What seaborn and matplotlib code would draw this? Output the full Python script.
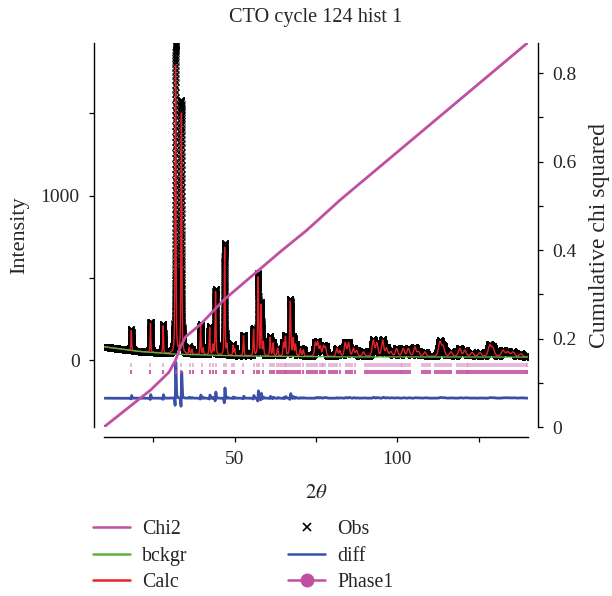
import matplotlib
matplotlib.use("Agg")
import matplotlib.pyplot as plt
import numpy as np
import pandas as pd
import seaborn as sns
from matplotlib.lines import Line2D
from matplotlib.ticker import FormatStrFormatter, MultipleLocator

TITLE = "CTO cycle 124 hist 1"

# background (green line) read at a few 2theta positions
bkg_2theta = [10, 20, 31, 50, 80, 140]
bkg_counts = [82, 55, 38, 27, 21, 20]

# peaks: position, calc height, obs height (above background), fwhm
peak_pos = [18.2, 24.1, 28.0, 31.8, 33.6, 36.0, 36.8, 39.5, 40.3, 42.3, 43.3, 44.1, 46.9, 47.6,
            49.5, 50.0, 52.7, 55.8, 57.2, 58.1, 58.8, 60.9, 61.8, 63.2, 65.0, 65.6, 67.1, 68.0,
            68.7, 70.2, 71.1, 74.8, 75.5, 76.3, 77.3, 77.9, 81.4, 82.3, 84.0, 85.0, 86.5, 87.5,
            89.6, 92.6, 93.7, 95.5, 96.7, 98.0, 99.8, 101.8, 103.4, 105.4, 106.5, 108.5, 113.1,
            114.1, 116.5, 119.2, 120.8, 123.0, 125.4, 128.4, 129.4, 132.5, 134.0, 135.6, 138.0]
peak_calc = [120, 175, 165, 1750, 1460, 40, 30, 175, 40, 165, 60, 385, 655, 60,
             62, 40, 122, 160, 475, 305, 80, 112, 78, 48, 78, 115, 330, 105,
             68, 44, 38, 78, 82, 58, 58, 52, 48, 34, 82, 82, 48, 34,
             28, 96, 78, 96, 48, 28, 48, 48, 48, 56, 28, 28, 88,
             58, 28, 48, 38, 24, 24, 65, 48, 38, 28, 28, 18]
peak_obs = [128, 185, 175, 1880, 1540, 44, 32, 185, 42, 175, 62, 400, 680, 62,
            66, 42, 128, 168, 495, 318, 82, 118, 80, 50, 80, 120, 345, 110,
            70, 46, 40, 80, 85, 60, 60, 55, 50, 35, 85, 85, 50, 35,
            30, 100, 80, 100, 50, 30, 50, 50, 50, 58, 30, 30, 92,
            60, 30, 50, 40, 25, 25, 68, 50, 40, 30, 30, 20]
peak_fwhm = [0.25, 0.25, 0.25, 0.3, 0.3, 0.3, 0.3, 0.3, 0.3, 0.3, 0.3, 0.3, 0.3, 0.3,
             0.3, 0.3, 0.32, 0.32, 0.32, 0.32, 0.35, 0.35, 0.35, 0.4, 0.4, 0.4, 0.4, 0.4,
             0.4, 0.45, 0.45, 0.6, 0.6, 0.6, 0.6, 0.6, 0.6, 0.6, 0.7, 0.7, 0.7, 0.7,
             0.8, 0.8, 0.8, 0.8, 0.8, 0.9, 0.9, 0.9, 0.9, 0.9, 0.9, 0.9, 1.0,
             1.0, 1.0, 1.0, 1.0, 1.1, 1.1, 1.1, 1.1, 1.2, 1.2, 1.2, 1.2]

STEP = 0.004
ZERO_SHIFT = 0.015
DIFF_OFFSET = -230
TICK_ROWS = [-30, -72]

# cumulative chi squared (right axis)
chi2_2theta = [9.8, 24.2, 29.8, 31.8, 33.3, 34.9, 39.5, 46.6, 64.0, 72.2, 82.4, 140.0]
chi2_value = [0.0, 0.084, 0.124, 0.151, 0.181, 0.204, 0.232, 0.287, 0.396, 0.445, 0.513, 0.868]

# Phase1 reflection positions
refl_pos = [18.0, 24.1, 28.0, 31.8, 33.6, 36.4, 37.1, 40.0, 42.5, 43.3, 44.1, 46.6, 47.4, 49.2,
            49.9, 52.6, 55.8, 56.9, 57.6, 58.6, 60.9, 61.5, 62.2, 63.0, 63.5,
            64.2, 64.8, 65.4, 65.9, 66.5, 67.1, 67.6, 68.3, 68.9, 69.6, 70.2, 70.9,
            72.3, 72.9, 73.6, 74.2, 74.8, 75.4, 76.1, 76.7, 77.3, 77.8,
            78.9, 79.6, 80.3, 80.9, 81.5, 82.3, 84.1, 84.8, 85.5, 86.2, 86.9,
            90.2, 90.8, 91.4, 92.0, 92.6, 93.2, 93.8, 94.4, 95.0, 95.6, 96.2, 96.8, 97.4,
            98.0, 98.6, 99.2, 99.8, 100.4, 101.0, 101.6, 102.2, 102.8, 103.4, 103.9,
            107.6, 108.2, 108.8, 109.4, 110.0,
            111.6, 112.2, 112.8, 113.4, 114.0, 114.6, 115.2, 115.8, 116.6,
            118.3, 118.9, 119.5, 120.1, 120.7, 121.3, 121.9, 122.5, 123.1, 123.7, 124.3,
            124.9, 125.5, 126.1, 126.7, 127.3, 127.9, 128.5, 129.1, 129.7, 130.4,
            131.1, 131.7, 132.3, 132.9, 133.5, 134.1, 134.7, 135.3, 135.9, 136.5, 137.1,
            137.7, 138.3, 138.9, 139.5, 140.0]

MAGENTA = "#c04fa0"
GREEN = "#5bb43c"
RED = "#e8222a"
BLUE = "#3a50a8"


def pseudo_voigt(x, pos, height, fwhm, eta=0.5):
    d = (x - pos) / (fwhm / 2)
    return height * (eta / (1 + d ** 2) + (1 - eta) * np.exp(-np.log(2) * d ** 2))


def build_pattern() -> pd.DataFrame:
    two_theta = np.arange(10.0, 140.0 + STEP / 2, STEP)
    bkg = np.interp(two_theta, bkg_2theta, bkg_counts)
    calc = bkg.copy()
    obs = bkg.copy()
    for pos, hc, ho, w in zip(peak_pos, peak_calc, peak_obs, peak_fwhm):
        calc += pseudo_voigt(two_theta, pos, hc, w)
        obs += pseudo_voigt(two_theta, pos + ZERO_SHIFT, ho, w)
    return pd.DataFrame({"two_theta": two_theta, "obs": obs, "calc": calc, "bkg": bkg,
                         "diff": obs - calc + DIFF_OFFSET})


sns.set_theme(style="ticks")
plt.rcParams["font.family"] = ["Liberation Serif", "DejaVu Serif"]
plt.rcParams["mathtext.fontset"] = "stix"
FS = 14

df = build_pattern()

fig = plt.figure(figsize=(6.12, 5.96), dpi=100)
ax = fig.add_axes([104 / 612, 1 - 427 / 596, 424 / 612, 384 / 596])

ax.plot(df["two_theta"], df["obs"], ls="none", marker="x", ms=5, mew=0.8, color="black", zorder=2)
sns.lineplot(data=df, x="two_theta", y="calc", ax=ax, color=RED, lw=1.0, errorbar=None, sort=False, zorder=3)
sns.lineplot(data=df, x="two_theta", y="bkg", ax=ax, color=GREEN, lw=1.0, errorbar=None, sort=False, zorder=4)
sns.lineplot(data=df, x="two_theta", y="diff", ax=ax, color=BLUE, lw=2.0, errorbar=None, sort=False, zorder=3)
ax.plot(refl_pos, [TICK_ROWS[0]] * len(refl_pos), ls="none", marker="|", ms=3.5, mew=1.2,
        color=MAGENTA, alpha=0.45, zorder=3)
ax.plot(refl_pos, [TICK_ROWS[1]] * len(refl_pos), ls="none", marker="|", ms=3.5, mew=1.5,
        color=MAGENTA, alpha=0.85, zorder=3)

ax.set_xlim(9.8, 140.2)
ax.set_ylim(-405, 1928)
ax.xaxis.set_major_locator(MultipleLocator(50))
ax.xaxis.set_minor_locator(MultipleLocator(25))
ax.yaxis.set_major_locator(MultipleLocator(1000))
ax.yaxis.set_minor_locator(MultipleLocator(500))
ax.set_xlabel(r"$2\theta$", fontsize=15, labelpad=11)
ax.set_ylabel("Intensity", fontsize=16, labelpad=8)
ax.set_title(TITLE, fontsize=14.6, pad=15)

ax2 = ax.twinx()
sns.lineplot(x=chi2_2theta, y=chi2_value, ax=ax2, color=MAGENTA, lw=2.0, errorbar=None, sort=False)
ax2.set_ylim(0, 0.868)
ax2.yaxis.set_major_locator(MultipleLocator(0.2))
ax2.yaxis.set_minor_locator(MultipleLocator(0.1))
ax2.yaxis.set_major_formatter(FormatStrFormatter("%g"))
ax2.set_ylabel("Cumulative chi squared", fontsize=17, labelpad=9)

for spine in ["top", "right"]:
    ax.spines[spine].set_visible(False)
for spine in ["top", "left", "bottom"]:
    ax2.spines[spine].set_visible(False)
for a, spine in [(ax, "left"), (ax, "bottom"), (ax2, "right")]:
    a.spines[spine].set_position(("outward", 7))
    a.spines[spine].set_linewidth(1.0)
    a.spines[spine].set_color("black")
for a in (ax, ax2):
    a.tick_params(which="both", direction="out", length=3.5, width=0.9, color="black",
                  labelsize=FS, pad=7)
ax.set_facecolor("white")

handles = [
    Line2D([], [], color=MAGENTA, lw=1.8),
    Line2D([], [], color=GREEN, lw=1.8),
    Line2D([], [], color=RED, lw=1.8),
    Line2D([], [], color="black", ls="none", marker="x", ms=6, mew=1.2),
    Line2D([], [], color=BLUE, lw=1.8),
    Line2D([], [], color=MAGENTA, lw=1.8, marker="o", ms=9),
]
labels = ["Chi2", "bckgr", "Calc", "Obs", "diff", "Phase1"]
fig.legend(handles, labels, loc="upper left", bbox_to_anchor=(93 / 612, 1 - 520 / 596), ncol=2,
           frameon=False, fontsize=14.3, handlelength=1.85, handletextpad=0.6, columnspacing=5.1,
           labelspacing=0.38, borderpad=0, borderaxespad=0)

fig.savefig("out.png", dpi=100, facecolor="white")
